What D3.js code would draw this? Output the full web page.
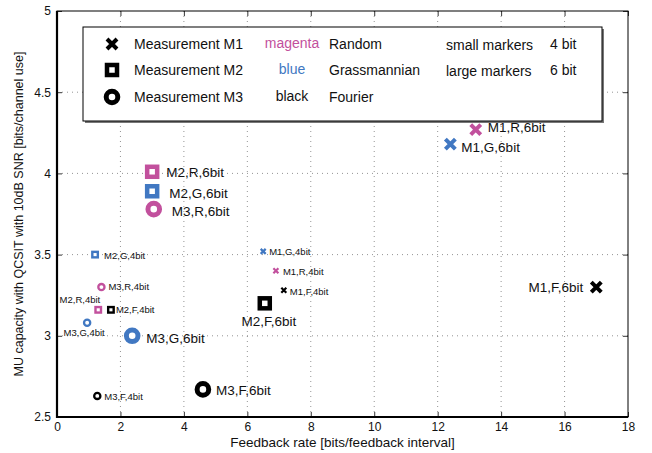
<!DOCTYPE html>
<html lang="en">
<head>
<meta charset="utf-8">
<style>
  body { margin: 0; background: #fff; }
  svg text { font-family: "Liberation Sans", Arial, sans-serif; fill: #111; }
  .grid line { stroke: #666; stroke-width: 0.7; stroke-dasharray: 1,4; }
</style>
</head>
<body>
<svg width="652" height="453"></svg>
<script src="https://cdn.jsdelivr.net/npm/d3@7/dist/d3.min.js"></script>
<script>
// data
var labels = ["M1,R,6bit","M1,G,6bit","M1,F,6bit","M2,R,6bit","M2,G,6bit","M3,R,6bit",
              "M2,G,4bit","M3,R,4bit","M2,R,4bit","M2,F,4bit","M3,G,4bit","M3,G,6bit",
              "M3,F,4bit","M3,F,6bit","M1,G,4bit","M1,R,4bit","M1,F,4bit","M2,F,6bit"];
var rate     = [13.2, 12.4, 17.0, 3.0, 3.0, 3.05, 1.2, 1.4, 1.3, 1.7, 0.95, 2.37, 1.27, 4.6, 6.5, 6.9, 7.15, 6.55];
var capacity = [4.27, 4.18, 3.30, 4.01, 3.89, 3.78, 3.50, 3.30, 3.16, 3.16, 3.08, 3.00, 2.63, 2.67, 3.52, 3.40, 3.28, 3.20];
var xTicks = [0, 2, 4, 6, 8, 10, 12, 14, 16, 18];
var yTicks = [2.5, 3, 3.5, 4, 4.5, 5];

// label placement: [anchor, dx, dy]
var labelPlace = {
  "M1,R,6bit": ["start", 12, -2], "M1,G,6bit": ["start", 11, 3], "M1,F,6bit": ["end", -13, 0],
  "M2,R,6bit": ["start", 14, 0], "M2,G,6bit": ["start", 17, 2], "M3,R,6bit": ["start", 18, 2],
  "M2,G,4bit": ["start", 9, 1], "M3,R,4bit": ["start", 7, 0], "M2,R,4bit": ["end", 2, -10],
  "M2,F,4bit": ["start", 5, 0], "M3,G,4bit": ["middle", -3, 10], "M3,G,6bit": ["start", 14, 2],
  "M3,F,4bit": ["start", 7, 1], "M3,F,6bit": ["start", 13, 1], "M1,G,4bit": ["start", 6, 0],
  "M1,R,4bit": ["start", 7, 1], "M1,F,4bit": ["start", 6, 1], "M2,F,6bit": ["middle", 4, 18]
};

var colors = { R: "#c2509d", G: "#4178c2", F: "#000000" };

var points = labels.map(function (l, i) {
  var p = l.split(",");
  return { label: l, m: p[0], cb: p[1], big: p[2] === "6bit", x: rate[i], y: capacity[i] };
});

var svg = d3.select("svg"),
    margin = { left: 57, right: 24, top: 11, bottom: 36 },
    width = 652 - margin.left - margin.right,
    height = 453 - margin.top - margin.bottom;

var x = d3.scaleLinear().domain([0, 18]).range([margin.left, margin.left + width]);
var y = d3.scaleLinear().domain([2.5, 5]).range([margin.top + height, margin.top]);

// grid
var grid = svg.append("g").attr("class", "grid");
grid.selectAll(".gx").data(xTicks.slice(1, -1)).enter().append("line")
    .attr("x1", function (d) { return x(d); }).attr("x2", function (d) { return x(d); })
    .attr("y1", y(2.5)).attr("y2", y(5));
grid.selectAll(".gy").data(yTicks.slice(1, -1)).enter().append("line")
    .attr("y1", function (d) { return y(d); }).attr("y2", function (d) { return y(d); })
    .attr("x1", x(0)).attr("x2", x(18));

// axes
svg.append("g").attr("transform", "translate(0," + y(2.5) + ")")
    .call(d3.axisBottom(x).tickValues(xTicks).tickSize(-5).tickPadding(5).tickFormat(d3.format("d")));
svg.append("g").attr("transform", "translate(0," + y(5) + ")")
    .call(d3.axisTop(x).tickValues(xTicks).tickSize(-5).tickFormat(""));
svg.append("g").attr("transform", "translate(" + x(0) + ",0)")
    .call(d3.axisLeft(y).tickValues(yTicks).tickSize(-5).tickPadding(6).tickFormat(function (d) { return d; }));
svg.append("g").attr("transform", "translate(" + x(18) + ",0)")
    .call(d3.axisRight(y).tickValues(yTicks).tickSize(-5).tickFormat(""));
svg.selectAll(".domain").remove();
svg.selectAll(".tick line").attr("stroke", "#000").attr("stroke-width", 0.8);
svg.selectAll(".tick text").style("font-size", "12px").attr("fill", "#111");

// frame
svg.append("rect").attr("x", x(0)).attr("y", y(5)).attr("width", x(18) - x(0)).attr("height", y(2.5) - y(5))
    .attr("fill", "none").attr("stroke", "#000").attr("stroke-width", 1);
svg.append("path").attr("d", "M" + x(0) + "," + y(5) + "V" + y(2.5) + "H" + x(18))
    .attr("fill", "none").attr("stroke", "#000").attr("stroke-width", 2.2);

// axis titles
svg.append("text").attr("x", (x(0) + x(18)) / 2).attr("y", 447).attr("text-anchor", "middle")
    .style("font-size", "13.5px").text("Feedback rate [bits/feedback interval]");
svg.append("text").attr("transform", "translate(23," + (y(3.75)) + ") rotate(-90)").attr("text-anchor", "middle")
    .style("font-size", "12.5px").text("MU capacity with QCSIT with 10dB SNR [bits/channel use]");

// markers
function drawMarker(g, m, big, color) {
  if (m === "M1") {
    var s = big ? 5 : 2.5;
    g.append("path").attr("d", "M" + -s + "," + -s + "L" + s + "," + s + "M" + -s + "," + s + "L" + s + "," + -s)
      .attr("stroke", color).attr("stroke-width", big ? 4 : 2.2).attr("fill", "none");
  } else if (m === "M2") {
    var a = big ? 10 : 5.5;
    g.append("rect").attr("x", -a / 2).attr("y", -a / 2).attr("width", a).attr("height", a)
      .attr("fill", "#fff").attr("stroke", color).attr("stroke-width", big ? 4.5 : 2.4);
  } else {
    g.append("circle").attr("r", big ? 5.8 : 3.1)
      .attr("fill", "#fff").attr("stroke", color).attr("stroke-width", big ? 5 : 2.3);
  }
}

var node = svg.selectAll(".pt").data(points).enter().append("g")
    .attr("transform", function (d) { return "translate(" + x(d.x) + "," + y(d.y) + ")"; });
node.each(function (d) { drawMarker(d3.select(this), d.m, d.big, colors[d.cb]); });
node.append("text")
    .attr("text-anchor", function (d) { return labelPlace[d.label][0]; })
    .attr("x", function (d) { return labelPlace[d.label][1]; })
    .attr("y", function (d) { return labelPlace[d.label][2]; })
    .attr("dy", "0.35em")
    .style("font-size", function (d) { return d.big ? "13.5px" : "9.5px"; })
    .text(function (d) { return d.label; });

// legend
var lg = svg.append("g");
lg.append("rect").attr("x", 85).attr("y", 29).attr("width", 519).attr("height", 94).attr("fill", "#777");
lg.append("rect").attr("x", 83).attr("y", 27).attr("width", 519).attr("height", 94)
    .attr("fill", "#fff").attr("stroke", "#000").attr("stroke-width", 1);
var rowsY = [44, 70, 97];
var meas = ["M1", "M2", "M3"];
var colorWords = ["magenta", "blue", "black"];
var colorWordFill = [colors.R, colors.G, "#111"];
var codebooks = ["Random", "Grassmannian", "Fourier"];
var fs = "14px";
meas.forEach(function (m, i) {
  var g = lg.append("g").attr("transform", "translate(112," + rowsY[i] + ")");
  drawMarker(g, m, true, "#000");
  lg.append("text").attr("x", 134).attr("y", rowsY[i]).attr("dy", "0.35em").style("font-size", fs)
    .text("Measurement " + m);
  lg.append("text").attr("x", 292).attr("y", rowsY[i] - 1).attr("dy", "0.35em").attr("text-anchor", "middle")
    .style("font-size", fs).style("fill", colorWordFill[i]).text(colorWords[i]);
  lg.append("text").attr("x", 329).attr("y", rowsY[i]).attr("dy", "0.35em").style("font-size", fs)
    .text(codebooks[i]);
});
lg.append("text").attr("x", 446).attr("y", 45).attr("dy", "0.35em").style("font-size", fs).text("small markers");
lg.append("text").attr("x", 550).attr("y", 44).attr("dy", "0.35em").style("font-size", fs).text("4 bit");
lg.append("text").attr("x", 446).attr("y", 71).attr("dy", "0.35em").style("font-size", fs).text("large markers");
lg.append("text").attr("x", 550).attr("y", 70).attr("dy", "0.35em").style("font-size", fs).text("6 bit");
</script>
</body>
</html>
